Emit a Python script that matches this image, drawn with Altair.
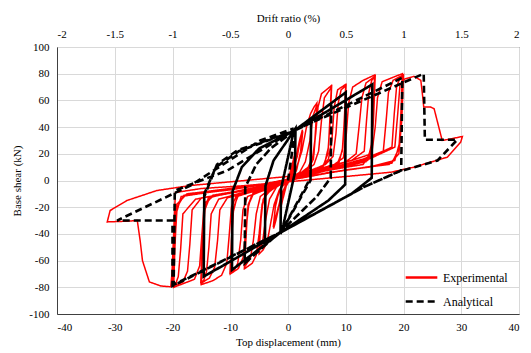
import altair as alt
import pandas as pd

# ---------------- Experimental loops (top displacement mm, base shear kN) ----------------
exp_c1 = [(0, 0), (0.6, 10), (1.2, 20), (1.0, 12), (0.3, 3), (-0.5, -6), (-1.2, -19), (-1.0, -11),
          (-0.3, -2), (0.6, 9), (1.25, 21), (1.0, 11), (0, 1), (-1.25, -20), (-0.9, -9), (0, 0)]
exp_c2 = [(1.3, 16), (2.0, 30), (2.5, 38), (2.2, 22), (1.5, 8), (0.5, 2), (-0.8, -8), (-1.6, -20),
          (-2.1, -30), (-2.5, -36), (-2.2, -20), (-1.5, -7), (-0.5, -1), (0.8, 7), (1.6, 18), (2.1, 30),
          (2.55, 37), (2.2, 20), (1.4, 7), (0, 0), (-1.0, -9), (-1.8, -22), (-2.55, -35), (-2.1, -16),
          (-1.2, -5), (0, 1)]
exp_c3 = [(1.5, 10), (2.4, 22), (3.2, 40), (3.9, 50), (4.5, 55), (5.0, 58), (4.8, 40), (4.5, 20),
          (3.8, 10), (2, 5), (0, 0), (-1.5, -7), (-2.4, -18), (-3.0, -32), (-3.6, -46), (-4.3, -52),
          (-5.0, -55), (-4.8, -38), (-4.5, -18), (-3.8, -9), (-2, -4), (0, 1), (2, 6), (3.0, 14),
          (3.8, 30), (4.3, 48), (5.05, 57), (4.8, 36), (4.4, 16), (3.5, 8), (0, 1), (-2, -5),
          (-3.2, -14), (-3.9, -30), (-4.4, -46), (-5.05, -54), (-4.8, -34), (-4.3, -14), (-3, -7), (0, 0)]
exp_c4 = [(2, 5), (3.5, 10), (4.3, 18), (4.8, 35), (5.2, 55), (5.8, 65), (7.5, 71), (7.3, 50),
          (7.0, 25), (6.3, 12), (4, 7), (0, 1), (-2.5, -6), (-4, -11), (-4.6, -22), (-5.0, -40),
          (-5.5, -56), (-6.2, -62), (-7.5, -66), (-7.3, -45), (-7.0, -22), (-6.3, -11), (-4, -7), (0, 0),
          (3, 7), (4.5, 12), (5.3, 22), (5.8, 45), (6.3, 62), (7.55, 70), (7.3, 45), (6.9, 20),
          (6, 10), (3, 5), (0, 0), (-3, -6), (-4.8, -12), (-5.5, -25), (-6.0, -45), (-6.5, -58),
          (-7.55, -65), (-7.3, -40), (-6.9, -18), (-6, -9), (-3, -5), (0, 0)]
exp_c5 = [(3, 6), (6, 11), (7.0, 16), (7.6, 30), (8.0, 55), (8.6, 68), (10, 72), (9.8, 50),
          (9.5, 25), (8.8, 13), (6, 8), (2, 3), (0, -1), (-3, -6), (-6, -10), (-6.8, -18),
          (-7.3, -38), (-7.8, -58), (-8.6, -66), (-10, -70), (-9.8, -48), (-9.5, -24), (-8.8, -12),
          (-6, -8), (-2, -3), (0, 1),
          (3, 6), (6.5, 12), (7.8, 18), (8.3, 35), (8.7, 58), (9.2, 68), (10.05, 71), (9.8, 48),
          (9.4, 22), (8.5, 12), (5, 7), (0, 0), (-4, -7), (-7, -12), (-7.8, -22), (-8.2, -45),
          (-8.7, -62), (-9.3, -67), (-10.05, -69), (-9.8, -45), (-9.4, -20), (-8.5, -10), (-4, -5), (0, 1)]
exp_c6 = [(4, 7), (8, 12), (9.6, 17), (10.1, 35), (10.5, 58), (11.2, 70), (13, 75), (15, 79),
          (14.8, 55), (14.5, 28), (13.8, 15), (10, 10), (5, 6), (0, 0), (-5, -7), (-9, -12),
          (-9.8, -20), (-10.2, -42), (-10.6, -62), (-11.5, -71), (-13, -75), (-15, -78), (-14.8, -52),
          (-14.5, -24), (-13.8, -13), (-10, -9), (-5, -5), (0, 1),
          (5, 8), (10, 14), (11.8, 20), (12.3, 40), (12.8, 62), (13.5, 73), (15.05, 78), (14.8, 50),
          (14.4, 24), (13.5, 14), (8, 9), (0, 1), (-6, -8), (-10.5, -13), (-11.8, -22), (-12.2, -45),
          (-12.7, -65), (-13.6, -73), (-15.05, -77), (-14.8, -48), (-14.4, -22), (-13.5, -12), (-8, -8), (0, 0),
          (6, 9), (11, 15), (13.2, 22), (13.6, 45), (14.0, 66), (14.5, 75), (15.1, 78), (14.8, 45),
          (14.3, 20), (13, 12), (6, 7), (0, 0), (-7, -8), (-12, -14), (-13.3, -25), (-13.7, -50),
          (-14.1, -68), (-14.6, -75), (-15.1, -76), (-14.8, -42), (-14.3, -18), (-13, -11), (-6, -6), (0, 0)]
exp_c7 = [(5, 8), (11, 15), (14.5, 20), (15.1, 40), (15.5, 62), (16.3, 74), (18, 77), (19.8, 80),
          (19.6, 55), (19.3, 28), (18.5, 15), (14, 10), (7, 6), (0, 0), (-7, -7), (-13, -12),
          (-14.5, -17), (-14.9, -40), (-15.3, -64), (-16.2, -74), (-18, -77), (-19.8, -80), (-19.6, -52),
          (-19.3, -24), (-18.5, -12), (-14, -9), (-7, -5), (0, 1),
          (7, 9), (13, 16), (16.5, 22), (17, 45), (17.4, 66), (18.2, 75), (19.9, 79), (19.6, 50),
          (19.2, 24), (18, 13), (12, 9), (0, 1), (-8, -8), (-15, -13), (-16.6, -22), (-17.0, -48),
          (-17.4, -68), (-18.2, -76), (-19.9, -79), (-19.6, -48), (-19.2, -20), (-18, -11), (-10, -7), (0, 0),
          (8, 10), (14, 17), (18.0, 25), (18.4, 50), (18.8, 70), (19.3, 76), (20, 79), (19.7, 45),
          (19.2, 20), (17.5, 12), (10, 8), (0, 0), (-10, -9), (-16, -14), (-18.2, -25), (-18.6, -52),
          (-19.0, -72), (-19.5, -78), (-20, -79), (-19.7, -45), (-19.3, -18), (-17.5, -10), (-10, -6), (0, 0)]
exp_final = [(8, 9), (14, 16), (18.5, 25), (19.0, 50), (19.4, 72), (20.2, 76), (21.8, 78), (23, 75),
             (23.4, 60), (23.5, 55), (24.7, 55), (25.3, 53.8), (26.7, 30), (28, 31), (30.2, 33),
             (29.9, 28.7), (27.6, 17.5), (21.8, 10), (17.8, 6.2), (10, 3), (0, -1), (-8, -4),
             (-15, -6), (-19.5, -9), (-19.8, -40), (-20.1, -70), (-20.3, -79.6), (-22, -79),
             (-24, -76), (-25.2, -60), (-25.6, -45), (-26.1, -30), (-28, -30.5), (-31.3, -31),
             (-30.8, -22.5), (-27.9, -15), (-22.7, -7.5), (-16.9, -3.75), (-10, -1), (0, 3)]

# ---------------- Analytical loops ----------------
ana_c1 = [(0, 0), (1.3, 39), (1.2, 6), (-1.0, -37), (-1.3, -40), (-1.2, -6), (1.0, 37), (1.3, 39),
          (1.2, 6), (-1.0, -37), (-1.3, -40), (-1.2, -6), (1.0, 37)]
ana_c2 = [(4, 45), (3.9, 2), (-1.1, -38), (-4, -48), (-3.9, -4), (-2.5, 15), (1, 37), (4, 45),
          (3.9, 0), (-1.1, -38), (-4, -48), (-3.9, -4), (-2.5, 15), (1, 37)]
ana_c3 = [(7.5, 58), (7.4, 2), (5, -12), (-1.2, -38), (-7.5, -62), (-7.4, -5), (-5.5, 12), (-3, 24),
          (1, 37), (7.5, 58), (7.4, 2), (5, -12), (-1.2, -38), (-7.5, -62), (-7.4, -5), (-5.5, 12),
          (-3, 24), (1, 37)]
ana_c4 = [(10, 66), (9.9, -3), (7, -15), (-1.3, -39), (-9.7, -67), (-9.6, -8), (-8, 10), (-5, 24),
          (1, 37), (10, 66), (9.9, -3), (7, -15), (-1.3, -39), (-9.7, -67), (-9.6, -8), (-8, 10),
          (-5, 24), (1, 37)]
ana_c5 = [(14.6, 72), (14.5, 2), (11, -10), (-1.3, -39), (-14.6, -72), (-14.5, -12), (-12.3, 12),
          (-8.8, 22.5), (1, 37), (14.6, 72), (14.5, 2), (11, -10), (-1.3, -39), (-14.6, -72),
          (-14.5, -10), (-12.5, 10), (-8.5, 22), (1, 37)]
ana_c6 = [(19.8, 77), (19.6, 7.5), (13.1, -5), (-1.3, -38.8), (-19.8, -78), (-19.6, -7.5),
          (-10.5, 7.5), (1, 37.5)]
ana_final = [(23.5, 80), (23.7, 30.5), (29.3, 30.5), (25.9, 15), (18.9, 6.25), (13.1, -5),
             (-1.3, -38.8), (-20, -79), (-20, -30), (-29.6, -30), (-16.9, -3.75), (-4.8, 30), (1, 39)]

exp_cycles = [exp_c1, exp_c2, exp_c3, exp_c4, exp_c5, exp_c6, exp_c7, exp_final]
ana_cycles = [ana_c1, ana_c2, ana_c3, ana_c4, ana_c5, ana_c6, ana_final]

series_names = ["Experimental", "Analytical"]
x_ticks = [-40, -30, -20, -10, 0, 10, 20, 30, 40]
y_ticks = [-100, -80, -60, -40, -20, 0, 20, 40, 60, 80, 100]


def to_rows(cycles, name):
    rows = []
    k = 0
    for cyc in cycles:
        for d, v in cyc:
            rows.append({"d": d, "V": v, "series": name, "i": k})
            k += 1
    return rows


exp_df = pd.DataFrame(to_rows(exp_cycles, "Experimental"))
ana_df = pd.DataFrame(to_rows(ana_cycles, "Analytical"))

FONT = "Liberation Serif"

xscale = alt.Scale(domain=[-40, 40], nice=False, zero=False)
yscale = alt.Scale(domain=[-100, 100], nice=False, zero=False)

leg = alt.Legend(title=None, orient="none", legendX=347, legendY=213,
                 symbolType="stroke", symbolSize=1000, symbolStrokeWidth=2.5,
                 labelFont=FONT, labelFontSize=12, labelColor="#000",
                 rowPadding=0, padding=0)
color = alt.Color("series:N",
                  scale=alt.Scale(domain=series_names, range=["#ff0000", "#000000"]),
                  legend=leg)
dash = alt.StrokeDash("series:N",
                      scale=alt.Scale(domain=series_names, range=[[1, 0], [7, 4]]),
                      legend=leg)

x_bottom = alt.X("d:Q", scale=xscale,
                 axis=alt.Axis(title="Top displacement (mm)", values=x_ticks, orient="bottom",
                               labelExpr="'' + datum.value", ticks=False, labelPadding=7,
                               titlePadding=4, domainColor="#404040", grid=True))
y_left = alt.Y("V:Q", scale=yscale,
               axis=alt.Axis(title="Base shear (kN)", values=y_ticks, labelExpr="'' + datum.value",
                             ticks=False, labelPadding=8, titlePadding=6, domainColor="#404040",
                             grid=True))

exp_layer = alt.Chart(exp_df).mark_line(strokeWidth=1.5, strokeCap="butt").encode(
    x=x_bottom, y=y_left, color=color, strokeDash=dash, order="i:Q")

ana_layer = alt.Chart(ana_df).mark_line(strokeWidth=2.6, strokeCap="butt").encode(
    x=alt.X("d:Q", scale=xscale, axis=None),
    y=y_left,
    color=color, strokeDash=dash, order="i:Q")

top_df = pd.DataFrame({"d": x_ticks, "V": [0] * len(x_ticks)})
top_layer = alt.Chart(top_df).mark_point(opacity=0).encode(
    x=alt.X("d:Q", scale=xscale,
            axis=alt.Axis(title="Drift ratio (%)", values=x_ticks, orient="top",
                          labelExpr="'' + (datum.value / 20)", ticks=False, labelPadding=8,
                          titlePadding=5, grid=False, domain=False)),
    y=y_left)

chart = alt.layer(exp_layer, ana_layer, top_layer).resolve_axis(x="independent").properties(
    width=462, height=267, padding={"left": 57, "top": 47, "right": 12, "bottom": 39},
    autosize=alt.AutoSizeParams(type="none"), background="white"
).configure_view(stroke="#404040", strokeWidth=1).configure_axis(
    labelFont=FONT, labelFontSize=11, labelColor="#000", titleFont=FONT, titleFontSize=11,
    titleFontWeight="normal", titleColor="#000", gridColor="#d9d9d9", gridWidth=1
)

chart.save("out.html", embed_options={"renderer": "svg", "actions": False})
